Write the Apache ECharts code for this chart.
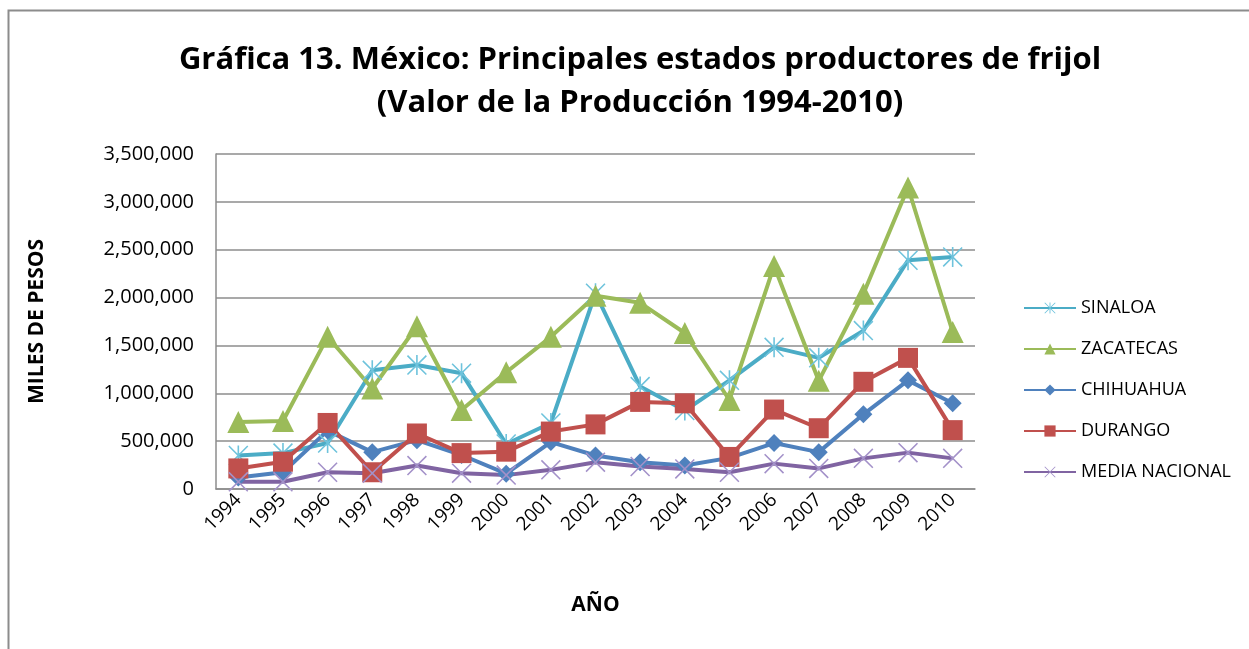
<!DOCTYPE html>
<html>
<head>
<meta charset="utf-8">
<script src="https://cdn.jsdelivr.net/npm/echarts@6/dist/echarts.min.js"></script>
<style>
  html, body { margin: 0; padding: 0; background: #fff; }
  #main { width: 1249px; height: 649px; }
</style>
</head>
<body>
<div id="main"></div>
<script>
var years = ["1994", "1995", "1996", "1997", "1998", "1999", "2000", "2001", "2002",
  "2003", "2004", "2005", "2006", "2007", "2008", "2009", "2010"];

// miles de pesos
var sinaloa = [350000, 375000, 480000, 1240000, 1295000, 1210000, 470000, 690000, 2045000,
  1070000, 820000, 1135000, 1480000, 1370000, 1655000, 2390000, 2425000];
var zacatecas = [700000, 710000, 1590000, 1050000, 1700000, 825000, 1220000, 1590000, 2020000,
  1945000, 1630000, 930000, 2330000, 1130000, 2040000, 3150000, 1640000];
var chihuahua = [120000, 175000, 610000, 385000, 510000, 355000, 160000, 490000, 350000,
  280000, 245000, 325000, 480000, 385000, 780000, 1135000, 895000];
var durango = [215000, 285000, 690000, 175000, 580000, 375000, 390000, 600000, 675000,
  910000, 895000, 335000, 830000, 635000, 1120000, 1370000, 615000];
var mediaNacional = [75000, 75000, 175000, 165000, 245000, 165000, 145000, 200000, 280000,
  235000, 210000, 175000, 265000, 215000, 320000, 380000, 320000];

var yTicks = [0, 500000, 1000000, 1500000, 2000000, 2500000, 3000000, 3500000];

var starPath = "path://M9.2,0L10.8,0L10.8,20L9.2,20Z M0,1.1L1.1,0L20,18.9L18.9,20Z M18.9,0L20,1.1L1.1,20L0,18.9Z";
var crossPath = "path://M0,1.1L1.1,0L20,18.9L18.9,20Z M18.9,0L20,1.1L1.1,20L0,18.9Z";

var chart = echarts.init(document.getElementById("main"));

function mk(name, data, color, symbol, size, markColor) {
  return {
    name: name,
    type: "line",
    data: data,
    symbol: symbol,
    symbolSize: size,
    showAllSymbol: true,
    lineStyle: { color: color, width: 4 },
    itemStyle: { color: markColor || color },
    emphasis: { disabled: true },
    animation: false
  };
}

chart.setOption({
  backgroundColor: "#fff",
  textStyle: { fontFamily: "Open Sans" },
  graphic: [{
    type: "rect",
    shape: { x: 8.5, y: 10.5, width: 1300, height: 700 },
    style: { fill: "none", stroke: "#8c8c8c", lineWidth: 2 }
  }],
  title: {
    text: "Gráfica 13. México: Principales estados productores de frijol\n(Valor de la Producción 1994-2010)",
    left: 635,
    top: 34,
    textAlign: "center",
    textStyle: { fontFamily: "Open Sans", fontWeight: "bold", fontSize: 31, lineHeight: 43, color: "#000" }
  },
  legend: {
    orient: "vertical",
    left: 1018,
    top: 291,
    itemGap: 17,
    itemWidth: 52,
    itemHeight: 14,
    textStyle: { fontSize: 18, color: "#000", fontFamily: "Open Sans", lineHeight: 24 },
    data: ["SINALOA", "ZACATECAS", "CHIHUAHUA", "DURANGO", "MEDIA NACIONAL"]
  },
  grid: { left: 216, right: 274, top: 154, bottom: 160 },
  xAxis: {
    type: "category",
    data: years,
    boundaryGap: true,
    name: "AÑO",
    nameLocation: "middle",
    nameGap: 106,
    nameTextStyle: { fontSize: 21, fontWeight: "bold", color: "#000" },
    axisLine: { lineStyle: { color: "#8c8c8c", width: 1.5 } },
    axisTick: { show: false },
    axisLabel: { rotate: 45, fontSize: 19, color: "#000", margin: 8, interval: 0 }
  },
  yAxis: {
    type: "value",
    min: 0,
    max: 3500000,
    interval: 500000,
    name: "MILES DE PESOS",
    nameLocation: "middle",
    nameGap: 168,
    nameTextStyle: { fontSize: 21, fontWeight: "bold", color: "#000" },
    axisLine: { show: true, lineStyle: { color: "#8c8c8c", width: 1.5 } },
    axisTick: { show: false },
    splitLine: { lineStyle: { color: "#8c8c8c", width: 1.5 } },
    axisLabel: {
      fontSize: 20, color: "#000", margin: 22,
      formatter: function (v) { return yTicks.indexOf(v) >= 0 ? v.toLocaleString("en-US") : ""; }
    }
  },
  series: [
    mk("SINALOA", sinaloa, "#4BACC6", starPath, 20, "#6ec3dc"),
    mk("ZACATECAS", zacatecas, "#9BBB59", "triangle", 22),
    mk("CHIHUAHUA", chihuahua, "#4F81BD", "diamond", 18),
    mk("DURANGO", durango, "#C0504D", "rect", 20),
    mk("MEDIA NACIONAL", mediaNacional, "#8064A2", crossPath, 20, "#a391c9")
  ]
});
</script>
</body>
</html>
